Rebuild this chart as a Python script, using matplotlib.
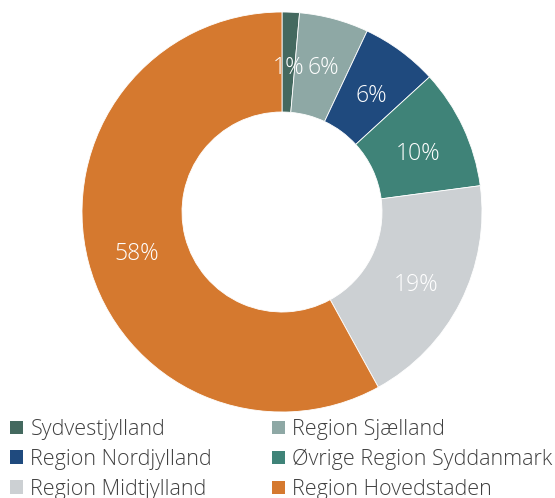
import matplotlib
matplotlib.use('Agg')
import matplotlib.pyplot as plt
from matplotlib.patches import Patch

plt.rcParams['font.family'] = ['Open Sans', 'DejaVu Sans']

REGIONS = ['Sydvestjylland', 'Region Sjælland', 'Region Nordjylland',
           'Øvrige Region Syddanmark', 'Region Midtjylland', 'Region Hovedstaden']
SHARES = [1.4, 5.6, 6.2, 9.7, 19.1, 58.0]
LABELS = ['1%', '6%', '6%', '10%', '19%', '58%']
COLORS = ['#44695f', '#8ea8a5', '#1f4a7e', '#3f8378', '#ccd0d3', '#d5792f']

fig = plt.figure(figsize=(5.55, 4.98), dpi=100)
ax = fig.add_axes([82 / 555, 86 / 498, 400 / 555, 400 / 498])

wedges, texts = ax.pie(SHARES, colors=COLORS, labels=LABELS, startangle=90,
                       counterclock=False, radius=1.0, labeldistance=0.75,
                       wedgeprops=dict(width=0.5, edgecolor='white', linewidth=0.6),
                       textprops=dict(color='white', fontsize=16.5, fontweight='light'))
for t in texts:
    t.set_horizontalalignment('center')
    t.set_verticalalignment('center')
    x, y = t.get_position()
    t.set_position((x, y - 0.025))
# first two small slices: labels sit side by side as in the original
texts[0].set_position((0.035, 0.72))
texts[1].set_position((0.205, 0.72))
ax.set_xlim(-1, 1)
ax.set_ylim(-1, 1)
ax.set_aspect('equal')
ax.axis('off')

# legend: two columns, rows go left-right
handles = [Patch(facecolor=c, edgecolor='none') for c in COLORS]
col_x = [10 / 555, 272 / 555]
for col in range(2):
    idx = [col, col + 2, col + 4]
    leg = fig.legend([handles[i] for i in idx], [REGIONS[i] for i in idx],
                     loc='upper left', bbox_to_anchor=(col_x[col], 1 - 419 / 498),
                     frameon=False, ncol=1, prop=dict(weight='light', size=15.5),
                     handlelength=0.6, handleheight=0.6, handletextpad=0.35,
                     labelspacing=0.41, borderpad=0, borderaxespad=0)
    for txt in leg.get_texts():
        txt.set_color('#404040')

fig.savefig('out.png', dpi=100)
